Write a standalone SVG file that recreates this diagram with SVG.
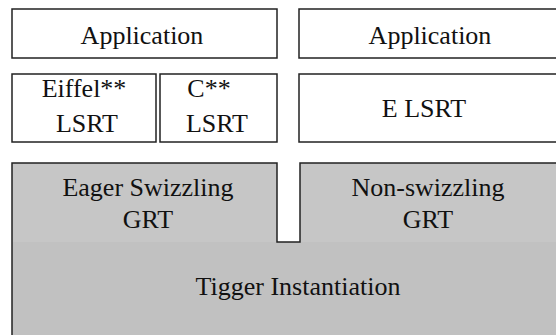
<svg xmlns="http://www.w3.org/2000/svg" width="556" height="335" viewBox="0 0 556 335">
<style>
.box{fill:#fff;stroke:#222;stroke-width:1.5}
.edge{fill:none;stroke:#222;stroke-width:1.5}
</style>
<rect width="556" height="335" fill="#fff"/>
<g font-family="Liberation Serif, Times New Roman, serif" font-size="26" fill="#111" text-anchor="middle">
<g id="app-left"><rect class="box" x="12" y="9" width="265" height="49"/><text x="142" y="44">Application</text></g>
<g id="app-right"><rect class="box" x="299" y="9" width="280" height="49"/><text x="430" y="44">Application</text></g>
<g id="eiffel-lsrt"><rect class="box" x="12" y="74" width="144" height="68"/><text x="84" y="97">Eiffel**</text><text x="87" y="132">LSRT</text></g>
<g id="c-lsrt"><rect class="box" x="160" y="74" width="117" height="68"/><text x="209" y="97">C**</text><text x="217" y="132">LSRT</text></g>
<g id="e-lsrt"><rect class="box" x="299" y="74" width="280" height="68"/><text x="424" y="117">E LSRT</text></g>
<g id="grt-base">
<rect x="12" y="163" width="570" height="79" fill="#c6c6c6"/>
<rect x="12" y="242" width="570" height="100" fill="#c1c1c1"/>
<rect x="277" y="160" width="23" height="82" fill="#fff"/>
<path class="edge" d="M12,345 V163 H277 V242 H300 V163 H580"/>
</g>
<g id="eager-grt"><text x="148" y="196">Eager Swizzling</text><text x="148" y="228">GRT</text></g>
<g id="nonswizzling-grt"><text x="428" y="196">Non-swizzling</text><text x="428" y="228">GRT</text></g>
<g id="tigger"><text x="298" y="295">Tigger Instantiation</text></g>
</g>
</svg>
